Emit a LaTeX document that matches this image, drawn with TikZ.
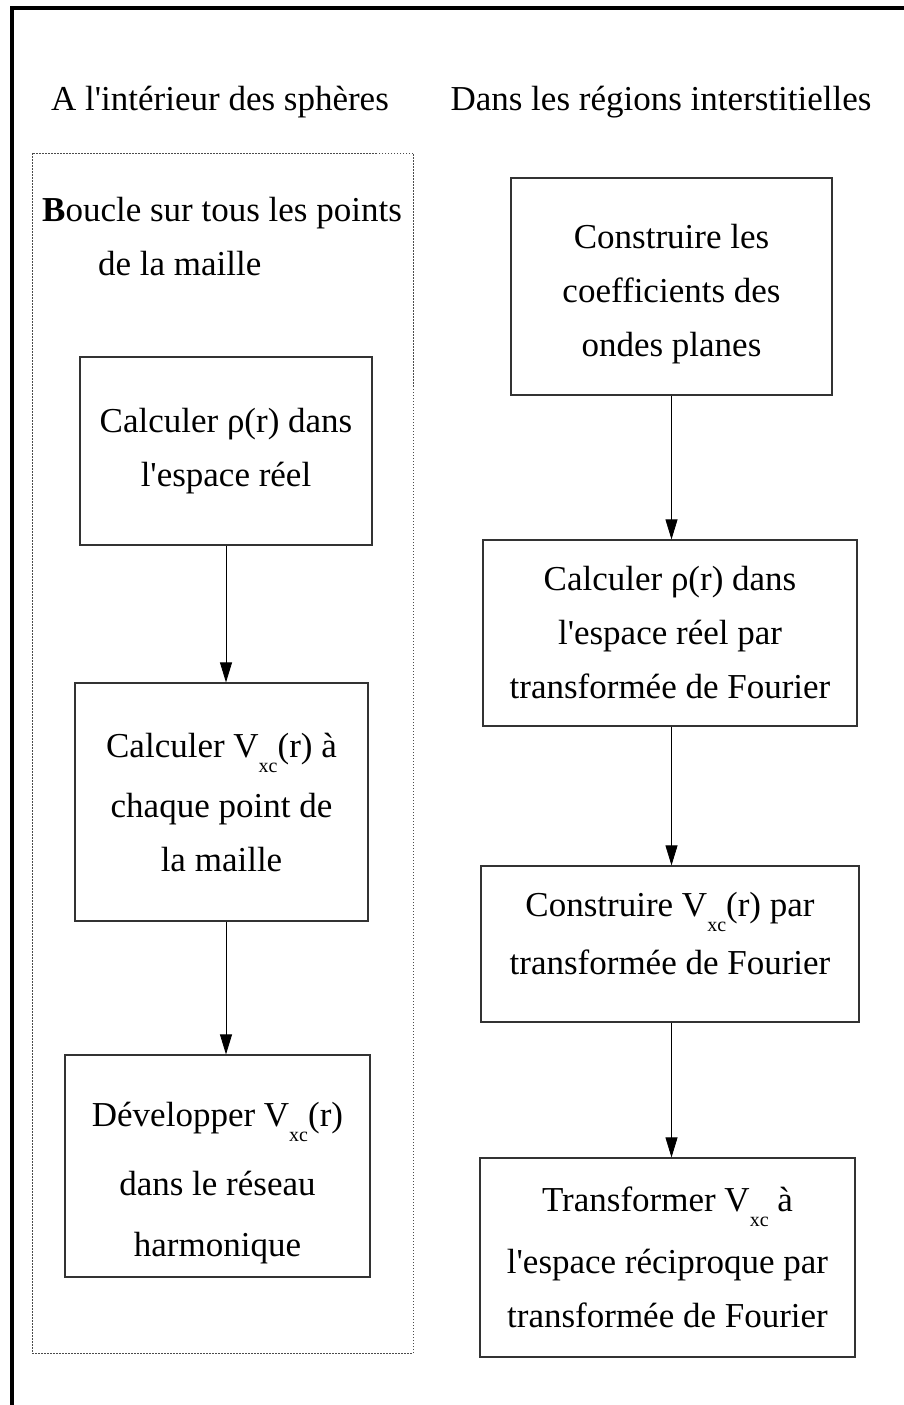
\documentclass[tikz,border=0pt]{standalone}
\usepackage{fontspec}
\setmainfont{Liberation Serif}[Ligatures=TeXOff]
\usetikzlibrary{arrows.meta}
\newcommand{\xc}{\raisebox{-15pt}{\fontsize{20}{20}\selectfont xc}}

\begin{document}
\begin{tikzpicture}[x=1pt,y=-1pt,
  font=\fontsize{35}{54}\selectfont,
  box/.style={draw=black!80,line width=1.2pt,align=center,inner sep=0pt},
  flow/.style={-{Triangle[length=20pt,width=12pt]},line width=0.8pt}]

\useasboundingbox (0,0) rectangle (904,1405);
\draw[line width=4pt] (12,1405) -- (12,8) -- (904,8);

% titres des colonnes
\node (sph) at (220,102) {A l'intérieur des sphères};
\node (inter) at (661,102) {Dans les régions interstitielles};

% boucle sur la maille
\node (loop) at (222.5,753)[draw=black!70,line width=1pt,dash pattern=on 1.5pt off 1.5pt,minimum width=381pt,minimum height=1200pt]{};
\node (loopt) at (42,237)[anchor=west,align=left,inner sep=0pt]{\textbf{B}oucle sur tous les points\\\hspace*{56pt}de la maille};

\node (l1) at (226,451)[box,minimum width=292pt,minimum height=188pt]{Calculer ρ(r) dans\\l'espace réel};
\node (l2) at (221.5,802)[box,minimum width=293pt,minimum height=238pt]{Calculer V\xc(r) à\\[6pt]chaque point de\\la maille};
\node (l3) at (217.5,1166)[box,minimum width=305pt,minimum height=222pt]{\rule{0pt}{58pt}Développer V\xc(r)\\[15pt]dans le réseau\\[7pt]harmonique};

\node (r1) at (671.5,286.5)[box,minimum width=321pt,minimum height=217pt]{\rule{0pt}{39pt}Construire les\\coefficients des\\ondes planes};
\node (r2) at (670,633)[box,minimum width=374pt,minimum height=186pt]{Calculer ρ(r) dans\\l'espace réel par\\transformée de Fourier};
\node (r3) at (670,944)[box,minimum width=378pt,minimum height=156pt]{Construire V\xc(r) par\\[4pt]transformée de Fourier\rule[-21pt]{0pt}{0pt}};
\node (r4) at (667.5,1257.5)[box,minimum width=375pt,minimum height=199pt]{Transformer V\xc{} à\\[8pt]l'espace réciproque par\\transformée de Fourier};

\draw[flow] (l1.south) -- (l1.south |- l2.north);
\draw[flow] (l2.south -| l1.south) -- (l1.south |- l3.north);

\foreach \a/\b in {r1/r2,r2/r3,r3/r4}
{
\draw[flow] (\a.south -| r1.south) -- (r1.south |- \b.north);
}

\end{tikzpicture}
\end{document}
